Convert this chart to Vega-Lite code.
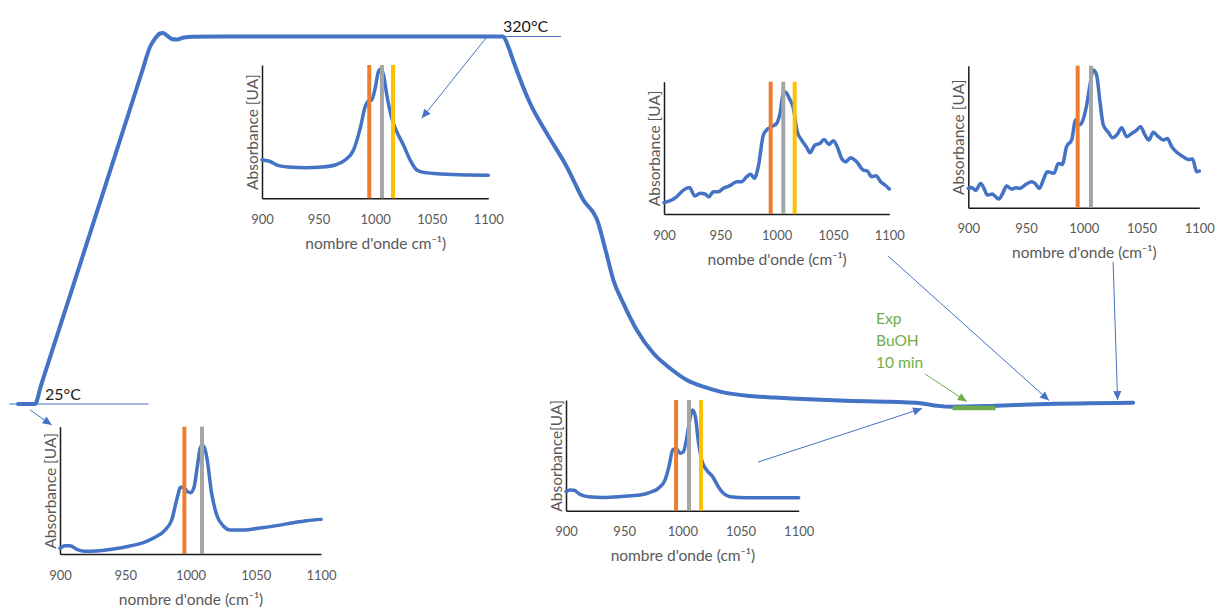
{
  "$schema": "https://vega.github.io/schema/vega-lite/v6.json",
  "width": 1217,
  "height": 607,
  "padding": 0,
  "autosize": {"type": "none"},
  "background": "white",
  "config": {
    "view": {"stroke": null},
    "font": "Lato",
    "axis": {
      "grid": false,
      "ticks": false,
      "tickSize": 0,
      "labelFont": "Lato",
      "labelFontSize": 13,
      "labelColor": "#595959",
      "labelPadding": 15,
      "labelFlush": false,
      "labelOverlap": false,
      "domainColor": "#1a1a1a",
      "domainWidth": 1.5,
      "titleFont": "Lato",
      "titleFontSize": 15.5,
      "titleFontWeight": "normal",
      "titleColor": "#595959"
    },
    "axisX": {"titlePadding": 10, "format": "d"},
    "axisY": {"labels": false, "titlePadding": 2}
  },
  "datasets": {
    "profil": [
      {"t": 4.19, "T": 25}, {"t": 8.14, "T": 25}, {"t": 9.5, "T": 39.6}, {"t": 12, "T": 66.4}, {"t": 20.93, "T": 161.9},
      {"t": 28, "T": 237.9}, {"t": 33, "T": 291.5}, {"t": 34.88, "T": 311.6},
      {"t": 36.16, "T": 318.8}, {"t": 37.21, "T": 322.4}, {"t": 37.91, "T": 322.8}, {"t": 38.84, "T": 320.8},
      {"t": 40.0, "T": 318.0}, {"t": 41.16, "T": 317.6}, {"t": 42.79, "T": 319.2}, {"t": 44.88, "T": 319.8},
      {"t": 51.16, "T": 320}, {"t": 116.98, "T": 320}, {"t": 118.14, "T": 312.4}, {"t": 119.37, "T": 300.3},
      {"t": 123.26, "T": 266.4}, {"t": 127.14, "T": 242.3}, {"t": 131.79, "T": 215.5}, {"t": 135.65, "T": 188.8},
      {"t": 138.95, "T": 171.9}, {"t": 140.93, "T": 147.0}, {"t": 142.63, "T": 124.5}, {"t": 144.95, "T": 105.8},
      {"t": 148.07, "T": 84.4}, {"t": 151.93, "T": 65.7}, {"t": 155.81, "T": 53.7}, {"t": 159.7, "T": 44.3},
      {"t": 163.56, "T": 38.9}, {"t": 167.44, "T": 34.9}, {"t": 174.42, "T": 31.4}, {"t": 180.23, "T": 30.2},
      {"t": 196.65, "T": 27.6}, {"t": 212.98, "T": 26.0}, {"t": 217.86, "T": 23.6}, {"t": 221.16, "T": 22.8},
      {"t": 230.23, "T": 23.4}, {"t": 241.53, "T": 24.8}, {"t": 263.49, "T": 26.0}
    ],
    "paliers": [
      {"t1": 2.16, "t2": 34.49, "T": 25},
      {"t1": 113.95, "t2": 130.47, "T": 320}
    ],
    "fleches": [
      {"id": "A1", "t1": 113.02, "T1": 318.8, "t2": 98.07, "T2": 254.3},
      {"id": "A2", "t1": 6.98, "T1": 20.2, "t2": 12.02, "T2": 8.1},
      {"id": "A3", "t1": 176.28, "T1": -21.6, "t2": 214.42, "T2": 21.4},
      {"id": "A4", "t1": 206.51, "T1": 143.8, "t2": 243.95, "T2": 27.8},
      {"id": "A5", "t1": 258.84, "T1": 139.0, "t2": 259.88, "T2": 28.2}
    ],
    "exp": [
      {"id": "A6", "t1": 215.12, "T1": 49.1, "t2": 224.81, "T2": 27.0, "d1": 221.5, "d2": 231.5, "Tb": 21.8, "tl": 203.72, "Tl": 89.2, "label": "Exp\nBuOH\n10 min"}
    ],
    "temperatures": [
      {"t": 10.47, "T": 28.2, "label": "25°C"},
      {"t": 116.98, "T": 323.4, "label": "320°C"}
    ],
    "s1": [
      {"wn": 900, "a": 0.2875}, {"wn": 905.9, "a": 0.28}, {"wn": 914.7, "a": 0.245}, {"wn": 926.5, "a": 0.2325},
      {"wn": 938, "a": 0.23}, {"wn": 953, "a": 0.235}, {"wn": 964.7, "a": 0.25}, {"wn": 973.5, "a": 0.2875},
      {"wn": 980.9, "a": 0.3625}, {"wn": 986.8, "a": 0.525}, {"wn": 991.2, "a": 0.6875}, {"wn": 994.1, "a": 0.73},
      {"wn": 997, "a": 0.7375}, {"wn": 1000, "a": 0.825}, {"wn": 1002.9, "a": 0.95}, {"wn": 1005, "a": 0.97},
      {"wn": 1007.4, "a": 0.925}, {"wn": 1010.3, "a": 0.775}, {"wn": 1014.7, "a": 0.6}, {"wn": 1019.1, "a": 0.5},
      {"wn": 1025, "a": 0.4}, {"wn": 1030.9, "a": 0.2875}, {"wn": 1036.8, "a": 0.2125}, {"wn": 1044.1, "a": 0.1925},
      {"wn": 1058.8, "a": 0.1825}, {"wn": 1082.4, "a": 0.175}, {"wn": 1100, "a": 0.1725}
    ],
    "s2": [
      {"wn": 900, "a": 0.086}, {"wn": 905.3, "a": 0.1}, {"wn": 911.2, "a": 0.13}, {"wn": 917.2, "a": 0.18},
      {"wn": 922.5, "a": 0.2}, {"wn": 927.5, "a": 0.136}, {"wn": 932, "a": 0.156}, {"wn": 936.4, "a": 0.151},
      {"wn": 940, "a": 0.13}, {"wn": 943.8, "a": 0.169}, {"wn": 948.2, "a": 0.169}, {"wn": 952.7, "a": 0.194},
      {"wn": 958.6, "a": 0.214}, {"wn": 964.5, "a": 0.244}, {"wn": 968.9, "a": 0.244}, {"wn": 973.4, "a": 0.282},
      {"wn": 976.9, "a": 0.3}, {"wn": 980.2, "a": 0.27}, {"wn": 983.7, "a": 0.358}, {"wn": 988.2, "a": 0.597},
      {"wn": 991.7, "a": 0.64}, {"wn": 995.6, "a": 0.66}, {"wn": 1000, "a": 0.685}, {"wn": 1003, "a": 0.76},
      {"wn": 1005.9, "a": 0.912}, {"wn": 1008, "a": 0.92}, {"wn": 1011.2, "a": 0.874}, {"wn": 1014.8, "a": 0.8},
      {"wn": 1018.3, "a": 0.622}, {"wn": 1022.2, "a": 0.559}, {"wn": 1026.6, "a": 0.504}, {"wn": 1029.6, "a": 0.463},
      {"wn": 1034, "a": 0.521}, {"wn": 1038.5, "a": 0.534}, {"wn": 1042, "a": 0.564}, {"wn": 1046.4, "a": 0.526},
      {"wn": 1050.3, "a": 0.554}, {"wn": 1053.8, "a": 0.509}, {"wn": 1057.7, "a": 0.42}, {"wn": 1061.5, "a": 0.395},
      {"wn": 1065.7, "a": 0.426}, {"wn": 1071, "a": 0.395}, {"wn": 1076.9, "a": 0.332}, {"wn": 1080.5, "a": 0.325},
      {"wn": 1084.3, "a": 0.282}, {"wn": 1088.2, "a": 0.29}, {"wn": 1092.3, "a": 0.244}, {"wn": 1096.2, "a": 0.219},
      {"wn": 1100, "a": 0.189}
    ],
    "s3": [
      {"wn": 900, "a": 0.136}, {"wn": 902.9, "a": 0.143}, {"wn": 906.3, "a": 0.122}, {"wn": 910.7, "a": 0.171},
      {"wn": 913.6, "a": 0.136}, {"wn": 916.5, "a": 0.089}, {"wn": 920.8, "a": 0.096}, {"wn": 923.7, "a": 0.077},
      {"wn": 926.6, "a": 0.061}, {"wn": 929.7, "a": 0.1}, {"wn": 933.2, "a": 0.153}, {"wn": 937.5, "a": 0.131},
      {"wn": 941.3, "a": 0.141}, {"wn": 944.7, "a": 0.136}, {"wn": 949.1, "a": 0.16}, {"wn": 954.8, "a": 0.183},
      {"wn": 957.7, "a": 0.171}, {"wn": 961.5, "a": 0.136}, {"wn": 964.9, "a": 0.195}, {"wn": 968.4, "a": 0.254},
      {"wn": 971.3, "a": 0.249}, {"wn": 974.2, "a": 0.242}, {"wn": 977.9, "a": 0.312}, {"wn": 981.4, "a": 0.305},
      {"wn": 985.1, "a": 0.43}, {"wn": 989.5, "a": 0.477}, {"wn": 992.9, "a": 0.617}, {"wn": 995.8, "a": 0.582},
      {"wn": 998.7, "a": 0.606}, {"wn": 1002.5, "a": 0.723}, {"wn": 1005.3, "a": 0.864}, {"wn": 1008.2, "a": 0.969},
      {"wn": 1011.1, "a": 0.934}, {"wn": 1014, "a": 0.746}, {"wn": 1016.9, "a": 0.582}, {"wn": 1021.2, "a": 0.531},
      {"wn": 1025, "a": 0.493}, {"wn": 1029, "a": 0.516}, {"wn": 1032.8, "a": 0.563}, {"wn": 1037.1, "a": 0.5},
      {"wn": 1041.4, "a": 0.523}, {"wn": 1045.8, "a": 0.547}, {"wn": 1049.2, "a": 0.57}, {"wn": 1053, "a": 0.512},
      {"wn": 1056.4, "a": 0.477}, {"wn": 1060.2, "a": 0.531}, {"wn": 1064.5, "a": 0.5}, {"wn": 1068.8, "a": 0.477},
      {"wn": 1072.3, "a": 0.488}, {"wn": 1076.1, "a": 0.43}, {"wn": 1080.4, "a": 0.39}, {"wn": 1086.1, "a": 0.359},
      {"wn": 1090.5, "a": 0.34}, {"wn": 1094.2, "a": 0.343}, {"wn": 1097.7, "a": 0.254}, {"wn": 1100, "a": 0.258}
    ],
    "s4": [
      {"wn": 900, "a": 0.0445}, {"wn": 903.8, "a": 0.065}, {"wn": 907.7, "a": 0.065}, {"wn": 912.8, "a": 0.037},
      {"wn": 919.2, "a": 0.021}, {"wn": 928.1, "a": 0.024}, {"wn": 940.9, "a": 0.039}, {"wn": 953.6, "a": 0.063},
      {"wn": 963.9, "a": 0.089}, {"wn": 972.8, "a": 0.131}, {"wn": 980.5, "a": 0.188}, {"wn": 985.6, "a": 0.267},
      {"wn": 989.4, "a": 0.424}, {"wn": 992.5, "a": 0.524}, {"wn": 994.5, "a": 0.524}, {"wn": 997.6, "a": 0.49},
      {"wn": 1000.1, "a": 0.482}, {"wn": 1002.7, "a": 0.524}, {"wn": 1005.2, "a": 0.686}, {"wn": 1007.8, "a": 0.843},
      {"wn": 1009.8, "a": 0.848}, {"wn": 1012.4, "a": 0.764}, {"wn": 1016.2, "a": 0.476}, {"wn": 1020.1, "a": 0.306},
      {"wn": 1025.2, "a": 0.22}, {"wn": 1030.3, "a": 0.188}, {"wn": 1040.5, "a": 0.188}, {"wn": 1053.3, "a": 0.204},
      {"wn": 1066, "a": 0.223}, {"wn": 1078.8, "a": 0.246}, {"wn": 1089, "a": 0.262}, {"wn": 1100, "a": 0.272}
    ],
    "s5": [
      {"wn": 900, "a": 0.172}, {"wn": 903.4, "a": 0.187}, {"wn": 906.9, "a": 0.184}, {"wn": 912, "a": 0.148},
      {"wn": 919.2, "a": 0.127}, {"wn": 932.1, "a": 0.12}, {"wn": 949.3, "a": 0.13}, {"wn": 963.6, "a": 0.142},
      {"wn": 972.2, "a": 0.166}, {"wn": 979.4, "a": 0.202}, {"wn": 985.1, "a": 0.277}, {"wn": 988.8, "a": 0.413},
      {"wn": 991.7, "a": 0.548}, {"wn": 994.6, "a": 0.563}, {"wn": 998, "a": 0.518}, {"wn": 1000.9, "a": 0.533},
      {"wn": 1003.7, "a": 0.654}, {"wn": 1006.6, "a": 0.834}, {"wn": 1008.6, "a": 0.91}, {"wn": 1010.9, "a": 0.864},
      {"wn": 1013.8, "a": 0.623}, {"wn": 1016.6, "a": 0.458}, {"wn": 1020.9, "a": 0.367}, {"wn": 1026.1, "a": 0.307},
      {"wn": 1030.9, "a": 0.217}, {"wn": 1035.3, "a": 0.157}, {"wn": 1041, "a": 0.127}, {"wn": 1055.3, "a": 0.117},
      {"wn": 1069.6, "a": 0.117}, {"wn": 1086.8, "a": 0.117}, {"wn": 1100, "a": 0.117}
    ],
    "b1": [{"wn": 994.8, "bande": "b995"}, {"wn": 1006, "bande": "b1006"}, {"wn": 1015.8, "bande": "b1016"}],
    "b2": [{"wn": 994.7, "bande": "b995"}, {"wn": 1005.9, "bande": "b1006"}, {"wn": 1016, "bande": "b1016"}],
    "b3": [{"wn": 994.7, "bande": "b995"}, {"wn": 1006.2, "bande": "b1006"}],
    "b4": [{"wn": 995.3, "bande": "b995"}, {"wn": 1008.8, "bande": "b1006"}],
    "b5": [{"wn": 994.6, "bande": "b995"}, {"wn": 1005.7, "bande": "b1006"}, {"wn": 1016, "bande": "b1016"}]
  },
  "layer": [
    {
      "layer": [
        {
          "data": {"name": "paliers"},
          "mark": {"type": "rule", "color": "#4472C4", "strokeWidth": 1},
          "encoding": {
            "x": {"field": "t1", "type": "quantitative", "scale": {"domain": [0, 283], "nice": false, "zero": false}, "axis": null},
            "x2": {"field": "t2"},
            "y": {"field": "T", "type": "quantitative", "scale": {"domain": [-137.95, 349.3], "nice": false, "zero": false}, "axis": null}
          }
        },
        {
          "data": {"name": "profil"},
          "mark": {"type": "line", "color": "#4472C4", "strokeWidth": 4, "interpolate": "monotone", "strokeCap": "round", "strokeJoin": "round"},
          "encoding": {
            "x": {"field": "t", "type": "quantitative", "scale": {"domain": [0, 283], "nice": false, "zero": false}, "axis": null},
            "y": {"field": "T", "type": "quantitative", "scale": {"domain": [-137.95, 349.3], "nice": false, "zero": false}, "axis": null}
          }
        },
        {
          "data": {"name": "fleches"},
          "mark": {"type": "rule", "color": "#4472C4", "strokeWidth": 1},
          "encoding": {
            "x": {"field": "t1", "type": "quantitative", "scale": {"domain": [0, 283], "nice": false, "zero": false}, "axis": null},
            "x2": {"field": "t2"},
            "y": {"field": "T1", "type": "quantitative", "scale": {"domain": [-137.95, 349.3], "nice": false, "zero": false}, "axis": null},
            "y2": {"field": "T2"}
          }
        },
        {
          "data": {"name": "exp"},
          "mark": {"type": "rule", "color": "#70AD47", "strokeWidth": 1},
          "encoding": {
            "x": {"field": "t1", "type": "quantitative", "scale": {"domain": [0, 283], "nice": false, "zero": false}, "axis": null},
            "x2": {"field": "t2"},
            "y": {"field": "T1", "type": "quantitative", "scale": {"domain": [-137.95, 349.3], "nice": false, "zero": false}, "axis": null},
            "y2": {"field": "T2"}
          }
        },
        {
          "data": {"name": "exp"},
          "mark": {"type": "rule", "color": "#70AD47", "strokeWidth": 4.5},
          "encoding": {
            "x": {"field": "d1", "type": "quantitative", "scale": {"domain": [0, 283], "nice": false, "zero": false}, "axis": null},
            "x2": {"field": "d2"},
            "y": {"field": "Tb", "type": "quantitative", "scale": {"domain": [-137.95, 349.3], "nice": false, "zero": false}, "axis": null}
          }
        },
        {
          "data": {"name": "exp"},
          "mark": {"type": "point", "shape": "M0,0L-0.45,1L0.45,1Z", "filled": true, "size": 324, "color": "#70AD47", "opacity": 1, "strokeWidth": 0, "angle": 123.4},
          "encoding": {
            "x": {"field": "t2", "type": "quantitative", "scale": {"domain": [0, 283], "nice": false, "zero": false}, "axis": null},
            "y": {"field": "T2", "type": "quantitative", "scale": {"domain": [-137.95, 349.3], "nice": false, "zero": false}, "axis": null}
          }
        },
        {
          "data": {"name": "fleches"},
          "transform": [{"filter": "datum.id === 'A1'"}],
          "mark": {"type": "point", "shape": "M0,0L-0.45,1L0.45,1Z", "filled": true, "size": 324, "color": "#4472C4", "opacity": 1, "strokeWidth": 0, "angle": 218.7},
          "encoding": {
            "x": {"field": "t2", "type": "quantitative", "scale": {"domain": [0, 283], "nice": false, "zero": false}, "axis": null},
            "y": {"field": "T2", "type": "quantitative", "scale": {"domain": [-137.95, 349.3], "nice": false, "zero": false}, "axis": null}
          }
        },
        {
          "data": {"name": "fleches"},
          "transform": [{"filter": "datum.id === 'A2'"}],
          "mark": {"type": "point", "shape": "M0,0L-0.45,1L0.45,1Z", "filled": true, "size": 324, "color": "#4472C4", "opacity": 1, "strokeWidth": 0, "angle": 124.7},
          "encoding": {
            "x": {"field": "t2", "type": "quantitative", "scale": {"domain": [0, 283], "nice": false, "zero": false}, "axis": null},
            "y": {"field": "T2", "type": "quantitative", "scale": {"domain": [-137.95, 349.3], "nice": false, "zero": false}, "axis": null}
          }
        },
        {
          "data": {"name": "fleches"},
          "transform": [{"filter": "datum.id === 'A3'"}],
          "mark": {"type": "point", "shape": "M0,0L-0.45,1L0.45,1Z", "filled": true, "size": 324, "color": "#4472C4", "opacity": 1, "strokeWidth": 0, "angle": 71.9},
          "encoding": {
            "x": {"field": "t2", "type": "quantitative", "scale": {"domain": [0, 283], "nice": false, "zero": false}, "axis": null},
            "y": {"field": "T2", "type": "quantitative", "scale": {"domain": [-137.95, 349.3], "nice": false, "zero": false}, "axis": null}
          }
        },
        {
          "data": {"name": "fleches"},
          "transform": [{"filter": "datum.id === 'A4'"}],
          "mark": {"type": "point", "shape": "M0,0L-0.45,1L0.45,1Z", "filled": true, "size": 324, "color": "#4472C4", "opacity": 1, "strokeWidth": 0, "angle": 131.9},
          "encoding": {
            "x": {"field": "t2", "type": "quantitative", "scale": {"domain": [0, 283], "nice": false, "zero": false}, "axis": null},
            "y": {"field": "T2", "type": "quantitative", "scale": {"domain": [-137.95, 349.3], "nice": false, "zero": false}, "axis": null}
          }
        },
        {
          "data": {"name": "fleches"},
          "transform": [{"filter": "datum.id === 'A5'"}],
          "mark": {"type": "point", "shape": "M0,0L-0.45,1L0.45,1Z", "filled": true, "size": 324, "color": "#4472C4", "opacity": 1, "strokeWidth": 0, "angle": 178.1},
          "encoding": {
            "x": {"field": "t2", "type": "quantitative", "scale": {"domain": [0, 283], "nice": false, "zero": false}, "axis": null},
            "y": {"field": "T2", "type": "quantitative", "scale": {"domain": [-137.95, 349.3], "nice": false, "zero": false}, "axis": null}
          }
        },
        {
          "data": {"name": "temperatures"},
          "mark": {"type": "text", "align": "left", "baseline": "alphabetic", "fontSize": 16, "font": "Lato", "color": "#1a1a1a"},
          "encoding": {
            "x": {"field": "t", "type": "quantitative", "scale": {"domain": [0, 283], "nice": false, "zero": false}, "axis": null},
            "y": {"field": "T", "type": "quantitative", "scale": {"domain": [-137.95, 349.3], "nice": false, "zero": false}, "axis": null},
            "text": {"field": "label"}
          }
        },
        {
          "data": {"name": "exp"},
          "mark": {"type": "text", "align": "left", "baseline": "alphabetic", "fontSize": 15.5, "font": "Lato", "color": "#70AD47", "lineBreak": "\n", "lineHeight": 22},
          "encoding": {
            "x": {"field": "tl", "type": "quantitative", "scale": {"domain": [0, 283], "nice": false, "zero": false}, "axis": null},
            "y": {"field": "Tl", "type": "quantitative", "scale": {"domain": [-137.95, 349.3], "nice": false, "zero": false}, "axis": null},
            "text": {"field": "label"}
          }
        }
      ]
    },
    {
      "encoding": {
        "x": {"field": "wn", "type": "quantitative", "scale": {"domain": [900, 1100], "range": [262, 488.3], "nice": false, "zero": false},
              "axis": {"orient": "bottom", "offset": -408.7, "values": [900, 950, 1000, 1050, 1100], "title": "nombre d'onde cm⁻¹)"}}
      },
      "layer": [
        {
          "data": {"name": "s1"},
          "mark": {"type": "line", "color": "#4472C4", "strokeWidth": 3.5, "interpolate": "monotone", "strokeCap": "round"},
          "encoding": {
            "y": {"field": "a", "type": "quantitative", "scale": {"domain": [0, 1], "range": [198.3, 65], "nice": false, "zero": false},
                  "axis": {"orient": "left", "offset": -262, "title": "Absorbance [UA]"}}
          }
        },
        {
          "data": {"name": "b1"},
          "mark": {"type": "rule", "strokeWidth": 4},
          "encoding": {
            "y": {"datum": 0, "type": "quantitative", "scale": {"domain": [0, 1], "range": [198.3, 65], "nice": false, "zero": false},
                  "axis": {"orient": "left", "offset": -262, "title": "Absorbance [UA]"}},
            "y2": {"datum": 1},
            "color": {"field": "bande", "type": "nominal", "scale": {"domain": ["b995", "b1006", "b1016"], "range": ["#ED7D31", "#A5A5A5", "#FFC000"]}, "legend": null}
          }
        }
      ]
    },
    {
      "encoding": {
        "x": {"field": "wn", "type": "quantitative", "scale": {"domain": [900, 1100], "range": [664, 889.3], "nice": false, "zero": false},
              "axis": {"orient": "bottom", "offset": -393, "values": [900, 950, 1000, 1050, 1100], "title": "nombe d'onde (cm⁻¹)"}}
      },
      "layer": [
        {
          "data": {"name": "s2"},
          "mark": {"type": "line", "color": "#4472C4", "strokeWidth": 3.5, "interpolate": "monotone", "strokeCap": "round"},
          "encoding": {
            "y": {"field": "a", "type": "quantitative", "scale": {"domain": [0, 1], "range": [214, 81.7], "nice": false, "zero": false},
                  "axis": {"orient": "left", "offset": -664, "title": "Absorbance [UA]"}}
          }
        },
        {
          "data": {"name": "b2"},
          "mark": {"type": "rule", "strokeWidth": 4},
          "encoding": {
            "y": {"datum": 0, "type": "quantitative", "scale": {"domain": [0, 1], "range": [214, 81.7], "nice": false, "zero": false},
                  "axis": {"orient": "left", "offset": -664, "title": "Absorbance [UA]"}},
            "y2": {"datum": 1},
            "color": {"field": "bande", "type": "nominal", "scale": {"domain": ["b995", "b1006", "b1016"], "range": ["#ED7D31", "#A5A5A5", "#FFC000"]}, "legend": null}
          }
        }
      ]
    },
    {
      "encoding": {
        "x": {"field": "wn", "type": "quantitative", "scale": {"domain": [900, 1100], "range": [968.3, 1199.3], "nice": false, "zero": false},
              "axis": {"orient": "bottom", "offset": -399.3, "values": [900, 950, 1000, 1050, 1100], "title": "nombre d'onde (cm⁻¹)"}}
      },
      "layer": [
        {
          "data": {"name": "s3"},
          "mark": {"type": "line", "color": "#4472C4", "strokeWidth": 3.5, "interpolate": "monotone", "strokeCap": "round"},
          "encoding": {
            "y": {"field": "a", "type": "quantitative", "scale": {"domain": [0, 1], "range": [207.7, 65.7], "nice": false, "zero": false},
                  "axis": {"orient": "left", "offset": -968.3, "title": "Absorbance [UA]"}}
          }
        },
        {
          "data": {"name": "b3"},
          "mark": {"type": "rule", "strokeWidth": 4},
          "encoding": {
            "y": {"datum": 0, "type": "quantitative", "scale": {"domain": [0, 1], "range": [207.7, 65.7], "nice": false, "zero": false},
                  "axis": {"orient": "left", "offset": -968.3, "title": "Absorbance [UA]"}},
            "y2": {"datum": 1},
            "color": {"field": "bande", "type": "nominal", "scale": {"domain": ["b995", "b1006", "b1016"], "range": ["#ED7D31", "#A5A5A5", "#FFC000"]}, "legend": null}
          }
        }
      ]
    },
    {
      "encoding": {
        "x": {"field": "wn", "type": "quantitative", "scale": {"domain": [900, 1100], "range": [60, 321], "nice": false, "zero": false},
              "axis": {"orient": "bottom", "offset": -53, "values": [900, 950, 1000, 1050, 1100], "title": "nombre d'onde (cm⁻¹)"}}
      },
      "layer": [
        {
          "data": {"name": "s4"},
          "mark": {"type": "line", "color": "#4472C4", "strokeWidth": 3.5, "interpolate": "monotone", "strokeCap": "round"},
          "encoding": {
            "y": {"field": "a", "type": "quantitative", "scale": {"domain": [0, 1], "range": [554, 426.7], "nice": false, "zero": false},
                  "axis": {"orient": "left", "offset": -60, "title": "Absorbance [UA]"}}
          }
        },
        {
          "data": {"name": "b4"},
          "mark": {"type": "rule", "strokeWidth": 4},
          "encoding": {
            "y": {"datum": 0, "type": "quantitative", "scale": {"domain": [0, 1], "range": [554, 426.7], "nice": false, "zero": false},
                  "axis": {"orient": "left", "offset": -60, "title": "Absorbance [UA]"}},
            "y2": {"datum": 1},
            "color": {"field": "bande", "type": "nominal", "scale": {"domain": ["b995", "b1006", "b1016"], "range": ["#ED7D31", "#A5A5A5", "#FFC000"]}, "legend": null}
          }
        }
      ]
    },
    {
      "encoding": {
        "x": {"field": "wn", "type": "quantitative", "scale": {"domain": [900, 1100], "range": [566, 798.7], "nice": false, "zero": false},
              "axis": {"orient": "bottom", "offset": -96.3, "values": [900, 950, 1000, 1050, 1100], "title": "nombre d'onde (cm⁻¹)"}}
      },
      "layer": [
        {
          "data": {"name": "s5"},
          "mark": {"type": "line", "color": "#4472C4", "strokeWidth": 3.5, "interpolate": "monotone", "strokeCap": "round"},
          "encoding": {
            "y": {"field": "a", "type": "quantitative", "scale": {"domain": [0, 1], "range": [510.7, 400], "nice": false, "zero": false},
                  "axis": {"orient": "left", "offset": -566, "title": "Absorbance[UA]"}}
          }
        },
        {
          "data": {"name": "b5"},
          "mark": {"type": "rule", "strokeWidth": 4},
          "encoding": {
            "y": {"datum": 0, "type": "quantitative", "scale": {"domain": [0, 1], "range": [510.7, 400], "nice": false, "zero": false},
                  "axis": {"orient": "left", "offset": -566, "title": "Absorbance[UA]"}},
            "y2": {"datum": 1},
            "color": {"field": "bande", "type": "nominal", "scale": {"domain": ["b995", "b1006", "b1016"], "range": ["#ED7D31", "#A5A5A5", "#FFC000"]}, "legend": null}
          }
        }
      ]
    }
  ],
  "resolve": {"scale": {"x": "independent", "y": "independent"}, "axis": {"x": "independent", "y": "independent"}}
}
